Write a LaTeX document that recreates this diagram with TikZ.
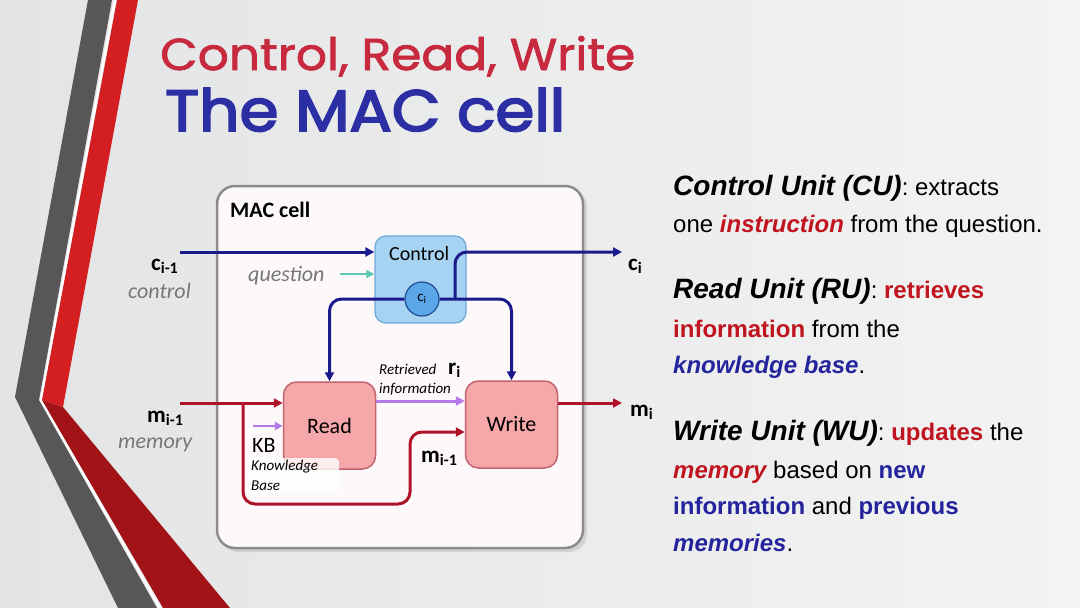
\documentclass[tikz,border=0pt]{standalone}
\usepackage{fontspec}
\usepackage{graphicx}
\setmainfont{Carlito}
\newfontfamily\arialfont{Liberation Sans}
\newfontfamily\titlefont{Poppins}[FakeBold=1.6]
\newfontfamily\titlefontb{Poppins}[FakeBold=3]
\usetikzlibrary{arrows.meta,calc}
\definecolor{bgl}{HTML}{E3E4E5}
\definecolor{bgr}{HTML}{F3F3F3}
\definecolor{navy}{HTML}{1A1A8C}
\definecolor{dred}{HTML}{B0122A}
\definecolor{purp}{HTML}{B47AE8}
\definecolor{teal2}{HTML}{5EC9B5}
\definecolor{ctlfill}{HTML}{A6D3F2}
\definecolor{ctlborder}{HTML}{6FA9D8}
\definecolor{cifill}{HTML}{5AA6E6}
\definecolor{ciborder}{HTML}{1E4C94}
\definecolor{pinkfill}{HTML}{F5A7A9}
\definecolor{pinkborder}{HTML}{C2646E}
\definecolor{cellborder}{HTML}{8C8C8C}
\definecolor{cellfill}{HTML}{FDF8FA}
\definecolor{titlered}{HTML}{C72A3E}
\definecolor{titleblue}{HTML}{2C2FA3}
\definecolor{txtred}{HTML}{C0141F}
\definecolor{txtblue}{HTML}{24249C}
\definecolor{grayit}{HTML}{777777}
\definecolor{stripegray}{HTML}{575757}
\definecolor{stripered}{HTML}{D41F22}
\definecolor{stripedred}{HTML}{A21318}
\newcommand{\headtxt}[1]{{\bfseries\itshape\fontsize{28}{32}\selectfont #1}}
\newcommand{\rb}[1]{{\bfseries\color{txtred}#1}}
\newcommand{\rbi}[1]{{\bfseries\itshape\color{txtred}#1}}
\newcommand{\bb}[1]{{\bfseries\color{txtblue}#1}}
\newcommand{\bbi}[1]{{\bfseries\itshape\color{txtblue}#1}}
\tikzset{
  arr/.style={-{Triangle[length=9pt,width=9pt]}},
  bline/.style={draw=navy,line width=3pt},
  rline/.style={draw=dred,line width=3pt},
  unitbox/.style={draw=pinkborder,fill=pinkfill,line width=1.5pt,rounded corners=13pt,minimum width=92pt,minimum height=87pt,inner sep=0pt,font=\fontsize{22}{26}\selectfont},
  lbl/.style={inner sep=0pt,anchor=base west},
  rtext/.style={inner sep=0pt,anchor=base west,font=\arialfont\fontsize{24}{29}\selectfont},
  giant/.style={inner sep=0pt,anchor=base west,font=\bfseries\fontsize{23}{26}\selectfont},
  grayital/.style={inner sep=0pt,anchor=base west,text=grayit,font=\itshape\fontsize{22}{26}\selectfont},
}
\begin{document}
\begin{tikzpicture}[x=1pt,y=-1pt]
\useasboundingbox (0,0) rectangle (1080,608);
\shade[left color=bgl,right color=bgr] (0,0) rectangle (1080,608);
% stripes
\fill[stripegray] (88,0) -- (112,0) -- (39,400) -- (157,608) -- (118,608) -- (15,397) -- cycle;
\draw[white,line width=2.5pt] (115,0) -- (41,400) -- (160,608);
\fill[stripered] (117,0) -- (138,0) -- (63,407) -- (42,400) -- cycle;
\fill[stripedred] (42,400) -- (63,407) -- (230,608) -- (163,608) -- cycle;
% title
\node[inner sep=0pt,anchor=base west,text=titlered] (t1) at (160,70) {\resizebox{475pt}{34pt}{\titlefont Control, Read, Write}};
\node[inner sep=0pt,anchor=base west,text=titleblue] (t2) at (165,131) {\resizebox{400pt}{43pt}{\titlefontb The MAC cell}};
% MAC cell
\fill[black,opacity=0.1,rounded corners=18pt] (220,189) rectangle (587,552);
\node[draw=cellborder,fill=cellfill,line width=2.5pt,rounded corners=18pt,minimum width=366pt,minimum height=362pt] (cell) at (400,367) {};
\node[lbl,font=\bfseries\fontsize{22}{26}\selectfont] (celltitle) at (230,217) {MAC cell};
% units
\node[draw=ctlborder,fill=ctlfill,line width=1.3pt,rounded corners=11pt,minimum width=91pt,minimum height=87pt] (ctl) at (420.5,279.5) {};
\node[lbl,font=\fontsize{20}{24}\selectfont] (ctltxt) at (389,260) {Control};
\node[unitbox] (rd) at (329.5,425.5) {Read};
\node[unitbox] (wr) at (511.5,424.5) {Write};
% coordinates
\coordinate (cin) at (180,252);
\coordinate (cout) at (622,252);
\coordinate (tap) at (455,299);
\coordinate (qs) at (340,274);
\coordinate (min) at (180,403);
\coordinate (br) at (243,403);
\coordinate (mout) at (622,403);
\coordinate (kb) at (253,426);
\coordinate (ry) at (420,401);
\coordinate (wy) at (420,432);
% blue lines
\draw[bline,arr] (cin) -- (cin -| ctl.west);
\draw[bline,arr,rounded corners=12pt] (tap) |- (cout);
\node[draw=ciborder,fill=cifill,line width=1.2pt,circle,minimum size=34pt,inner sep=0pt,font=\fontsize{15}{18}\selectfont] (ci) at (422,299) {c\textsubscript{i}};
\draw[bline,arr,rounded corners=12pt] (ci.west) -| (rd.north);
\draw[bline,arr,rounded corners=12pt] (ci.east) -| (wr.north);
\draw[draw=teal2,line width=2.5pt,-{Triangle[length=8pt,width=8pt]}] (qs) -- (qs -| ctl.west);
% red lines
\draw[rline,arr] (min) -- (min -| rd.west);
\draw[rline,arr,rounded corners=12pt] (br) -- ($(br)+(0,101)$) -- (410,504) -- (410,432) -- (wy -| wr.west);
\draw[rline,arr] (mout -| wr.east) -- (mout);
% purple
\draw[draw=purp,line width=3pt,arr] (ry -| rd.east) -- (ry -| wr.west);
\draw[draw=purp,line width=2.5pt,-{Triangle[length=8pt,width=8pt]}] (kb) -- (kb -| rd.west);
% KB labels
\node[lbl,font=\fontsize{22}{26}\selectfont] (kbl) at (252,452) {KB};
\node[fill=white,fill opacity=0.8,text opacity=1,rounded corners=4pt,anchor=north west,inner sep=2pt,text width=86pt,align=left,font=\itshape\fontsize{15}{20}\selectfont] (kbt) at (249,458) {Knowledge\\Base};
% other labels
\node[grayital] (qlbl) at (248,281) {question};
\node[giant] (cim1) at (151,270) {c\textsubscript{i-1}};
\node[grayital] (ctrl) at (128,298) {control};
\node[giant] (mim1) at (147,422) {m\textsubscript{i-1}};
\node[grayital] (mem) at (118,448) {memory};
\node[giant] (cil) at (628,270) {c\textsubscript{i}};
\node[giant] (mil) at (630,416) {m\textsubscript{i}};
\node[lbl,font=\itshape\fontsize{15}{18}\selectfont] (retr) at (379,374) {Retrieved};
\node[lbl,font=\itshape\fontsize{15}{18}\selectfont] (info) at (379,393) {information};
\node[giant] (ri) at (448,374) {r\textsubscript{i}};
\node[giant] (mim1b) at (421,462) {m\textsubscript{i-1}};
% right text
\node[rtext] (l1) at (673,195) {\headtxt{Control Unit (CU)}: extracts};
\node[rtext] (l2) at (673,232) {one \rbi{instruction} from the question.};
\node[rtext] (l3) at (673,298) {\headtxt{Read Unit (RU)}: \rb{retrieves}};
\node[rtext] (l4) at (673,337) {\rb{information} from the};
\node[rtext] (l5) at (673,373) {\bbi{knowledge base}.};
\node[rtext] (l6) at (673,440) {\headtxt{Write Unit (WU)}: \rb{updates} the};
\node[rtext] (l7) at (673,478) {\rbi{memory} based on \bb{new}};
\node[rtext] (l8) at (673,514) {\bb{information} and \bb{previous}};
\node[rtext] (l9) at (673,551) {\bbi{memories}.};
\end{tikzpicture}
\end{document}
